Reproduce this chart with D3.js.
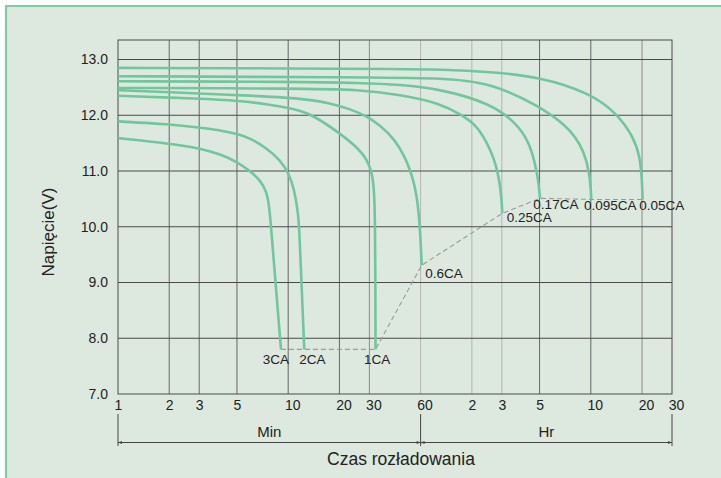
<!DOCTYPE html>
<html>
<head>
<meta charset="utf-8">
<script src="https://cdn.jsdelivr.net/npm/d3@7"></script>
<style>
  body { margin: 0; background: #fff; }
  svg text { font-family: "Liberation Sans", Arial, sans-serif; fill: #222; }
</style>
</head>
<body>
<svg id="chart" width="721" height="478"></svg>
<script>
// discharge time in minutes, voltage in V
const xTicks = [1, 2, 3, 5, 10, 20, 30, 60, 120, 180, 300, 600, 1200, 1800];
const xTickLabels = ['1', '2', '3', '5', '10', '20', '30', '60', '2', '3', '5', '10', '20', '30'];
const yTicks = [7, 8, 9, 10, 11, 12, 13];

const seriesNames = ['3CA', '2CA', '1CA', '0.6CA', '0.25CA', '0.17CA', '0.095CA', '0.05CA'];
const ca3 = [[1, 11.59], [2.02, 11.49], [3.03, 11.41], [4, 11.3], [5.05, 11.16], [5.97, 11.0], [6.83, 10.84], [7.48, 10.63], [7.74, 10.36], [7.93, 10.0], [8.48, 8.9], [9.07, 7.8], [9.07, 7.8]];
const ca2 = [[1, 11.89], [2.02, 11.84], [3.03, 11.78], [4, 11.73], [5.05, 11.665], [5.97, 11.59], [7.48, 11.41], [8.95, 11.2], [10.1, 10.96], [10.86, 10.66], [11.37, 10.3], [11.62, 10.0], [11.97, 9.0], [12.43, 7.8], [12.43, 7.8]];
const ca1 = [[1, 12.35], [3.03, 12.3], [5.2, 12.26], [7.5, 12.2], [10.1, 12.13], [11.7, 12.08], [14, 12.0], [20.1, 11.68], [26.4, 11.38], [29, 11.2], [31.1, 10.98], [32.1, 10.61], [32.4, 10.0], [32.55, 8.8], [32.6, 7.8], [32.6, 7.8]];
const ca06 = [[1, 12.45], [3.03, 12.39], [5.2, 12.36], [11.7, 12.31], [17.6, 12.22], [23.1, 12.11], [28.3, 12.0], [34.6, 11.83], [42.4, 11.56], [48.6, 11.25], [53.4, 10.93], [57.1, 10.57], [59.5, 10.0], [60.9, 9.31], [60.9, 9.31]];
const ca025 = [[1, 12.49], [11.7, 12.48], [26.4, 12.46], [45.4, 12.37], [78, 12.22], [105, 12.0], [125, 11.84], [142, 11.6], [155, 11.36], [166, 11.12], [175, 10.8], [180, 10.45], [181, 10.24], [181, 10.24]];
const ca017 = [[1, 12.61], [11.7, 12.6], [26.4, 12.58], [45.4, 12.55], [78, 12.47], [153, 12.22], [220, 11.86], [263, 11.5], [288, 11.02], [296, 10.78], [302, 10.51], [302, 10.51]];
const ca0095 = [[1, 12.7], [26.4, 12.68], [78, 12.67], [153, 12.59], [302, 12.16], [433, 11.8], [484, 11.61], [542, 11.38], [593, 10.96], [604, 10.49], [604, 10.49]];
const ca005 = [[1, 12.85], [11.7, 12.84], [45.4, 12.83], [78, 12.82], [153, 12.78], [302, 12.69], [593, 12.4], [851, 12.04], [1066, 11.62], [1167, 11.26], [1199, 10.84], [1210, 10.49], [1210, 10.49]];
const cutoff = [[9.07, 7.8], [32.6, 7.8], [60.9, 9.31], [181, 10.24], [302, 10.51], [604, 10.49], [1210, 10.49]];

const series = [ca3, ca2, ca1, ca06, ca025, ca017, ca0095, ca005];

const svg = d3.select('#chart');
const width = 721, height = 478;

// page background with the green border on top and left
svg.append('rect').attr('x', 6).attr('y', 6).attr('width', width - 6).attr('height', height - 6).attr('fill', '#dde9df');
svg.append('path').attr('d', `M6,${height} V6 H${width}`).attr('fill', 'none').attr('stroke', '#7fcba2').attr('stroke-width', 2.2);

const x = d3.scaleLog().domain([1, 1800]).range([118, 672]);
const y = d3.scaleLinear().domain([7, 13.35]).range([394, 40]);

// grid
const gridColor = (t) => {
  if ([60, 120, 180].includes(t)) return '#b4b4b4';
  if (t === 30 || t === 1200) return '#8a8a8a';
  return '#666';
};
svg.append('g').selectAll('line').data(xTicks.slice(1, -1)).join('line')
    .attr('x1', d => x(d)).attr('x2', d => x(d))
    .attr('y1', y.range()[1]).attr('y2', y.range()[0])
    .attr('stroke', d => gridColor(d)).attr('stroke-width', 1);
svg.append('g').selectAll('line').data(yTicks.slice(1)).join('line')
    .attr('x1', x.range()[0]).attr('x2', x.range()[1])
    .attr('y1', d => y(d)).attr('y2', d => y(d))
    .attr('stroke', '#4a4a4a').attr('stroke-width', 1);
svg.append('rect')
    .attr('x', x.range()[0]).attr('y', y.range()[1])
    .attr('width', x.range()[1] - x.range()[0]).attr('height', y.range()[0] - y.range()[1])
    .attr('fill', 'none').attr('stroke', '#4a4a4a').attr('stroke-width', 1);

// axes (labels only)
const yAxis = svg.append('g')
    .attr('transform', `translate(${x.range()[0]},0)`)
    .call(d3.axisLeft(y).tickValues(yTicks).tickFormat(d3.format('.1f')).tickSize(0).tickPadding(10));
const xAxis = svg.append('g')
    .attr('transform', `translate(0,${y.range()[0]})`)
    .call(d3.axisBottom(x).tickValues(xTicks).tickFormat((d, i) => xTickLabels[i]).tickSize(0).tickPadding(6));
[yAxis, xAxis].forEach(a => {
  a.select('.domain').remove();
  a.selectAll('text').attr('font-size', 14).attr('font-family', '"Liberation Sans", Arial, sans-serif').attr('fill', '#222');
});
xAxis.selectAll('text').attr('dx', (d, i) => xTickLabels[i].length > 1 ? 4 : 0);

// cut-off voltage dashed line
svg.append('path')
    .attr('d', d3.line().x(d => x(d[0])).y(d => y(d[1]))(cutoff))
    .attr('fill', 'none').attr('stroke', '#9a9a9a').attr('stroke-width', 1.1).attr('stroke-dasharray', '5,3');

// discharge curves (end point repeated so the spline reaches it on a straight tail)
const line = d3.line().x(d => x(d[0])).y(d => y(d[1])).curve(d3.curveBasis);
svg.append('g').selectAll('path').data(series).join('path')
    .attr('d', line)
    .attr('fill', 'none').attr('stroke', '#72c69c').attr('stroke-width', 2.6)
    .attr('stroke-linecap', 'butt');

// curve labels at the end of each curve
const labelPos = {
  '3CA': { dx: -5, dy: 14.5, anchor: 'middle' },
  '2CA': { dx: 8, dy: 14.5, anchor: 'middle' },
  '1CA': { dx: 1.5, dy: 14.5, anchor: 'middle' },
  '0.6CA': { dx: 3.5, dy: 13, anchor: 'start' },
  '0.25CA': { dx: 4.5, dy: 9, anchor: 'start' },
  '0.17CA': { dx: -6.7, dy: 11, anchor: 'start' },
  '0.095CA': { dx: -7.3, dy: 10.5, anchor: 'start' },
  '0.05CA': { dx: -3.4, dy: 10.5, anchor: 'start' },
};
svg.append('g').selectAll('text').data(seriesNames).join('text')
    .attr('x', (d, i) => x(series[i][series[i].length - 1][0]) + labelPos[d].dx)
    .attr('y', (d, i) => y(series[i][series[i].length - 1][1]) + labelPos[d].dy)
    .attr('text-anchor', d => labelPos[d].anchor)
    .attr('font-size', 13.5)
    .text(d => d);

// axis titles
svg.append('text')
    .attr('transform', 'translate(54,232) rotate(-90)')
    .attr('text-anchor', 'middle').attr('font-size', 17)
    .text('Napięcie(V)');

// Min / Hr bracket
const by = 442.5;
const bx = [x(1), x(60), x(1800)];
const bracket = svg.append('g').attr('stroke', '#444').attr('stroke-width', 1).attr('fill', 'none');
bx.forEach(v => bracket.append('line').attr('x1', v).attr('x2', v).attr('y1', 414).attr('y2', 446));
bracket.append('line').attr('x1', bx[0]).attr('x2', bx[2]).attr('y1', by).attr('y2', by);
const arrows = svg.append('g').attr('fill', '#444');
[[bx[0], 1], [bx[1], -1], [bx[1], 1], [bx[2], -1]].forEach(([v, dir]) => {
  arrows.append('path').attr('d', `M${v},${by} l${4 * dir},-1.6 v3.2 Z`);
});
svg.append('text').attr('x', (bx[0] + bx[1]) / 2).attr('y', 437).attr('text-anchor', 'middle').attr('font-size', 15).text('Min');
svg.append('text').attr('x', (bx[1] + bx[2]) / 2).attr('y', 437).attr('text-anchor', 'middle').attr('font-size', 15).text('Hr');
svg.append('text').attr('x', 401).attr('y', 464.5).attr('text-anchor', 'middle').attr('font-size', 17.5).text('Czas rozładowania');
</script>
</body>
</html>
